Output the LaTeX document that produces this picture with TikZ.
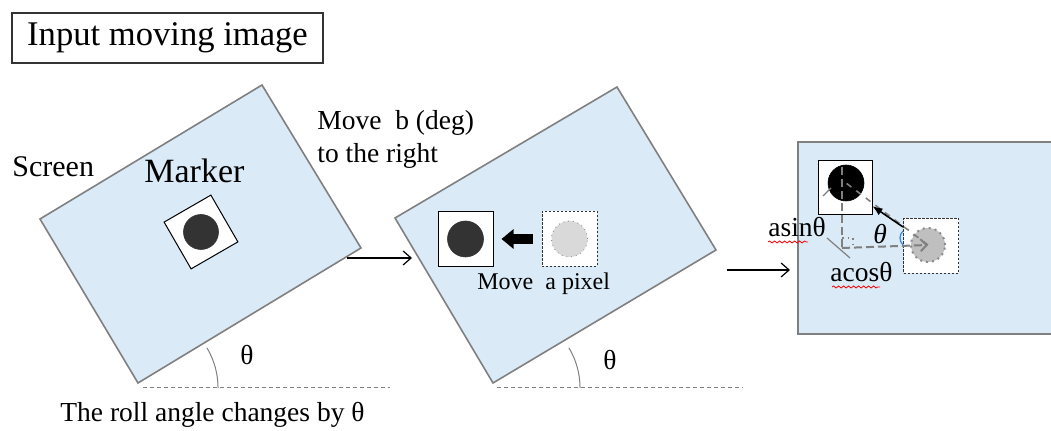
\documentclass[tikz,border=0pt]{standalone}
\usepackage{fontspec}
\setmainfont{Liberation Serif}
\usetikzlibrary{arrows.meta,calc,decorations.pathmorphing}
\definecolor{rollSky}{HTML}{DAEAF6}
\definecolor{rollGrey}{HTML}{808080}
\definecolor{rollInk}{HTML}{333333}
\definecolor{rollGhost}{HTML}{D9D9D9}
\definecolor{rollBlue}{HTML}{3A86D8}
\tikzset{
  >={Straight Barb[length=4pt,width=7pt]},
  screen/.style={draw=rollGrey, fill=rollSky, line width=0.8pt},
  mkbox/.style={draw=black, fill=white, minimum size=27.5pt, inner sep=0pt, line width=0.5pt},
  ghost/.style={draw=black!80, fill=white, dash pattern=on 1.2pt off 0.8pt,
              minimum size=27.5pt, inner sep=0pt, line width=0.5pt},
  dot/.style={circle, fill=rollInk, draw=black!80, minimum size=18pt, inner sep=0pt, line width=0.3pt},
  ghostdot/.style={circle, fill=rollGhost, draw=rollGrey, dotted, minimum size=18pt, inner sep=0pt},
  lbl/.style={font=\fontsize{13.75}{16.5}\selectfont, inner sep=0pt},
  flow/.style={->, draw=black, line width=0.6pt},
  guide/.style={draw=rollGrey, line width=1pt, dash pattern=on 4pt off 2pt},
  baseln/.style={draw=rollGrey, line width=0.5pt, dash pattern=on 2pt off 1.5pt},
  squiggle/.style={draw=red, line width=0.4pt, decorate,
              decoration={snake, amplitude=0.5pt, segment length=2.5pt}},
}

\begin{document}
\begin{tikzpicture}[x=0.5pt,y=-0.5pt]
  \useasboundingbox (0,0) rectangle (1051,431);
  \node[draw=black!80, line width=0.6pt, minimum width=155.5pt, minimum height=25pt,
        font=\fontsize{17.3}{20}\selectfont] (title) at (167.5,38) {Input moving image};
  % first screen, tilted
  \draw[screen] (262,85) -- (361,248) -- (138,383) -- (40,219) -- cycle;
  \node[mkbox, rotate=30, minimum size=27pt] (mkA) at (201,232) {};
  \node[dot, minimum size=17.5pt] (dotA) at (mkA) {};
  \node[lbl, anchor=base west, font=\fontsize{15}{18}\selectfont] (scrLbl) at (12,177) {Screen};
  \node[lbl, anchor=base west, font=\fontsize{17}{20}\selectfont] (mkLbl) at (144,183) {Marker};
  \draw[rollGrey, line width=0.5pt] (206.9,347.8) arc[start angle=-31, end angle=0, radius=78];
  \draw[baseln] (143,388) -- (390,388);
  \node[lbl] (thA) at (247,355) {θ};
  \node[lbl, anchor=base west] (caption) at (60,422) {The roll angle changes by θ};
  \node[lbl, anchor=north west, align=left] (moveLbl) at (317,110) {Move~ b (deg)\\to the right};
  \coordinate (outA) at (347,258);
  \coordinate (inB) at (412,258);
  \draw[flow] (outA) -- (inB);
  % second screen
  \draw[screen] (617,87) -- (716,250) -- (493,383) -- (395,218) -- cycle;
  \node[mkbox] (mkB) at (465.5,239) {};
  \node[dot] (dotB) at (mkB) {};
  \node[ghost] (ghostB) at (569.5,239) {};
  \node[ghostdot] (gdotB) at (ghostB) {};
  \draw[-{Triangle[length=6pt,width=9.5pt]}, line width=5pt, shorten <=4.5pt, shorten >=4pt]
        (ghostB) -- (mkB);
  \node[lbl, anchor=base west, font=\fontsize{12}{14}\selectfont] (pixLbl) at (477,290) {Move~ a pixel};
  \draw[rollGrey, line width=0.5pt] (568.9,347.8) arc[start angle=-31, end angle=0, radius=78];
  \draw[baseln] (497,388) -- (743,388);
  \node[lbl] (thB) at (610,360) {θ};
  \coordinate (outB) at (727,270);
  \coordinate (inC) at (790,270);
  \draw[flow] (outB) -- (inC);
  % third screen, upright
  \fill[rollSky] (798,142) rectangle (1051,334);
  \draw[screen, line width=1.3pt] (1051,142) -- (798,142) -- (798,334) -- (1051,334);
  \node[mkbox, minimum size=27pt] (mkC) at (845,187.5) {};
  \node[dot, fill=black, draw=black] (dotC) at (846,183) {};
  \node[ghost] (ghostC) at (931,246) {};
  \node[ghostdot, fill=black!25, draw=black!45, line width=1pt, minimum size=17pt] (gdotC) at (928,245) {};
  \coordinate (topC) at (842,167);
  \coordinate (foot) at (842,248);
  \draw[guide] (topC) -- (foot);
  \draw[guide, ->, >={Straight Barb[length=3pt,width=6pt]}] (foot) -- (gdotC.center);
  \draw[guide, line width=0.8pt, dash pattern=on 3pt off 3pt] (gdotC.center) -- (dotC.center);
  \draw[rollGrey, dotted, line width=0.8pt] (842,238) -- (853,238) -- (853,248);
  \draw[-{Latex[length=5pt,width=4pt]}, line width=0.8pt] (ghostC) -- (mkC);
  \draw[rollBlue, line width=0.6pt] (903,231) .. controls (899,235) and (899,241) .. (903,245);
  \node[lbl, font=\fontsize{13.75}{16}\selectfont\itshape] (thC) at (880,234) {θ};
  \draw[rollGrey, line width=0.6pt] (827,238) -- (850,258);
  \draw[rollGrey, line width=0.6pt] (823,196) -- (831,188);
  \node[lbl, anchor=base west] (asin) at (768,237) {asinθ};
  \node[lbl, anchor=base west] (acos) at (830,282) {acosθ};
  \draw[squiggle] ([yshift=-2.5pt]asin.base west) -- ([yshift=-2.5pt,xshift=20pt]asin.base west);
  \draw[squiggle] ([yshift=-2.5pt,xshift=1pt]acos.base west) -- ([yshift=-2.5pt,xshift=25pt]acos.base west);
\end{tikzpicture}
\end{document}
